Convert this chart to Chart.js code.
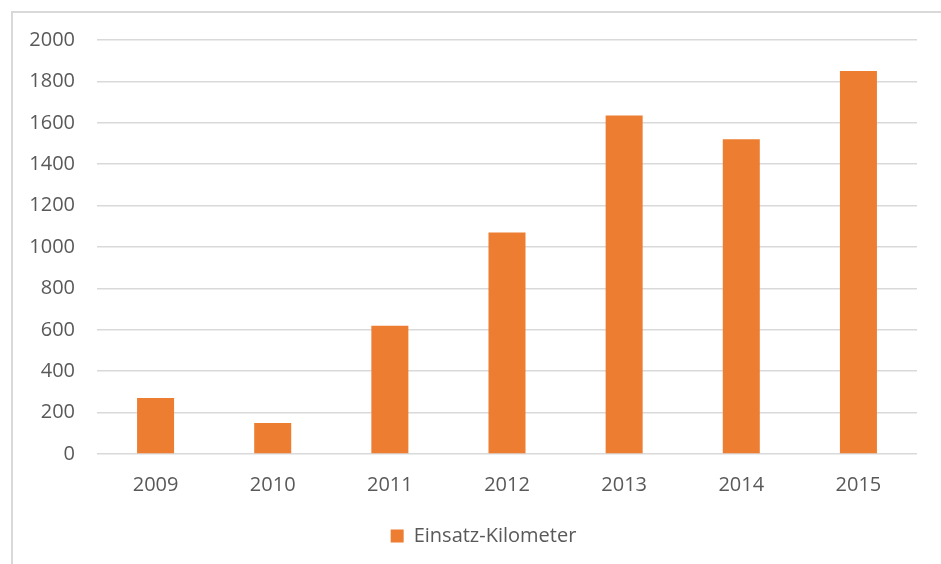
<!DOCTYPE html>
<html>
<head>
<meta charset="utf-8">
<script src="https://cdn.jsdelivr.net/npm/chart.js@4"></script>
<style>
  html, body { margin: 0; padding: 0; background: #fff; }
  #wrap { position: relative; width: 941px; height: 564px; overflow: hidden; }
  #frame {
    position: absolute; left: 11px; top: 11px; width: 1000px; height: 1000px;
    border-top: 2px solid #d9d9d9; border-left: 2px solid #d9d9d9;
  }
  canvas { position: absolute; left: 0; top: 0; }
</style>
</head>
<body>
<div id="wrap">
  <div id="frame"></div>
  <canvas id="mainChart" width="941" height="564"></canvas>
</div>
<script>
// Daten
const years = ['2009', '2010', '2011', '2012', '2013', '2014', '2015'];
const kilometers = [270, 150, 620, 1070, 1635, 1520, 1850];
const yTicks = [0, 200, 400, 600, 800, 1000, 1200, 1400, 1600, 1800, 2000];

const barColor = '#ed7d31';
const textColor = '#595959';
const gridColor = '#d9d9d9';

Chart.defaults.font.family = '"Open Sans", sans-serif';
Chart.defaults.font.size = 20;
Chart.defaults.color = textColor;

// Legende etwas nach rechts schieben (unter die Zeichenfläche)
const shiftLegend = {
    id: 'shiftLegend',
    afterLayout(chart) {
        const lg = chart.legend;
        if (lg) { lg.left += 25; lg.right += 25; }
    }
};

const ctx = document.getElementById('mainChart');

new Chart(ctx, {
    type: 'bar',
    data: {
        labels: years,
        datasets: [{
            label: 'Einsatz-Kilometer',
            data: kilometers,
            backgroundColor: barColor,
            borderWidth: 0,
            categoryPercentage: 1,
            barPercentage: 0.316
        }]
    },
    plugins: [shiftLegend],
    options: {
        responsive: false,
        animation: false,
        layout: { padding: { top: 40, right: 24, left: 0, bottom: 8 } },
        plugins: {
            legend: {
                position: 'bottom',
                labels: { boxWidth: 13, boxHeight: 13, padding: 10 }
            },
            tooltip: { enabled: false }
        },
        scales: {
            x: {
                grid: { display: false, drawTicks: false },
                border: { display: false },
                ticks: { padding: 19 }
            },
            y: {
                min: 0,
                max: 2000,
                afterBuildTicks: (scale) => { scale.ticks = yTicks.map(v => ({ value: v })); },
                afterFit: (scale) => { scale.width = 97; },
                grid: { color: gridColor, lineWidth: 1.5, drawTicks: false },
                border: { display: false },
                ticks: { padding: 22, callback: (v) => String(v) }
            }
        }
    }
});
</script>
</body>
</html>
